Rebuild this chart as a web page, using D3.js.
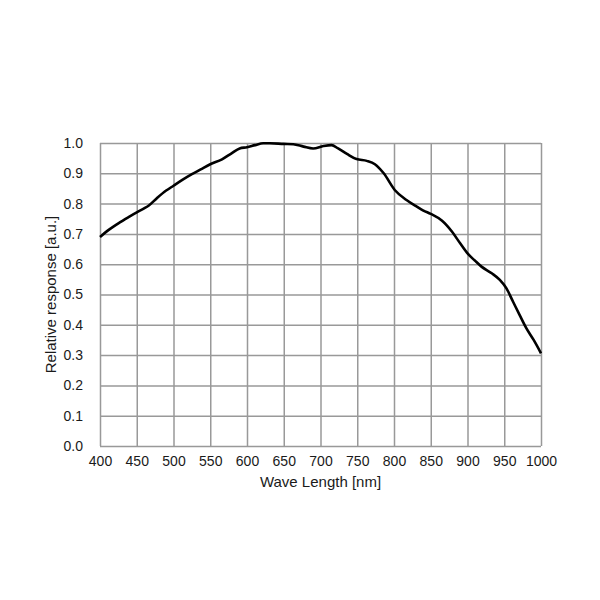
<!DOCTYPE html>
<html>
<head>
<meta charset="utf-8">
<script src="https://cdn.jsdelivr.net/npm/d3@7"></script>
<style>
  body { margin: 0; background: #fff; }
  svg text { font-family: "Liberation Sans", Arial, sans-serif; fill: #1a1a1a; }
</style>
</head>
<body>
<svg width="600" height="600"></svg>
<script>
// wavelength samples [nm]
var wavelengths = [400, 410, 425, 440, 450, 460, 466, 477, 490, 500, 512, 525, 537, 550,
    566, 579, 590, 600, 611, 622, 631, 650, 663, 677, 690, 704, 715, 724, 736, 749,
    763, 774, 786, 801, 817, 831, 840, 850, 865, 879, 890, 901, 910, 919, 933, 944,
    953, 962, 971, 980, 990, 1000];

// relative response [a.u.] at each wavelength
var response = [0.690, 0.710, 0.735, 0.757, 0.771, 0.784, 0.793, 0.817, 0.843, 0.859, 0.878, 0.897, 0.913, 0.930,
    0.946, 0.966, 0.982, 0.986, 0.993, 0.999, 0.999, 0.997, 0.996, 0.988, 0.982, 0.990, 0.993, 0.982, 0.964, 0.947,
    0.941, 0.930, 0.900, 0.845, 0.812, 0.790, 0.777, 0.766, 0.744, 0.707, 0.669, 0.633, 0.612, 0.592, 0.570, 0.548,
    0.520, 0.476, 0.432, 0.389, 0.350, 0.306];

// tick values for both axes
var xTicks = [400, 450, 500, 550, 600, 650, 700, 750, 800, 850, 900, 950, 1000];
var yTicks = [0.0, 0.1, 0.2, 0.3, 0.4, 0.5, 0.6, 0.7, 0.8, 0.9, 1.0];

var svg = d3.select('svg');
var padding = {t: 143, r: 59, b: 154, l: 100};
var chartWidth = +svg.attr('width') - padding.l - padding.r;
var chartHeight = +svg.attr('height') - padding.t - padding.b;

var chartG = svg.append('g')
    .attr('transform', 'translate(' + [padding.l, padding.t] + ')');

var x = d3.scaleLinear().domain([400, 1000]).range([0, chartWidth]);
var y = d3.scaleLinear().domain([0, 1]).range([chartHeight, 0]);

// grid + labels come from the axes
var xAxis = d3.axisBottom(x)
    .tickValues(xTicks)
    .tickSize(-chartHeight)
    .tickPadding(10)
    .tickFormat(d3.format('d'));
var yAxis = d3.axisLeft(y)
    .tickValues(yTicks)
    .tickSize(-chartWidth)
    .tickPadding(17)
    .tickFormat(d3.format('.1f'));

var gx = chartG.append('g')
    .attr('transform', 'translate(0,' + chartHeight + ')')
    .call(xAxis);
var gy = chartG.append('g').call(yAxis);

[gx, gy].forEach(function(g) {
    g.select('.domain').remove();
    g.selectAll('line').attr('stroke', '#999').attr('stroke-width', 1.5);
    g.selectAll('text').style('font-size', '14px').attr('fill', '#1a1a1a');
});

// response curve
var line = d3.line()
    .x(function(d, i) { return x(wavelengths[i]); })
    .y(function(d) { return y(d); })
    .curve(d3.curveMonotoneX);

chartG.append('path')
    .datum(response)
    .attr('fill', 'none')
    .attr('stroke', '#000')
    .attr('stroke-width', 2.6)
    .attr('stroke-linejoin', 'round')
    .attr('d', line);

// axis titles
svg.append('text')
    .attr('x', padding.l + chartWidth / 2)
    .attr('y', 487)
    .attr('text-anchor', 'middle')
    .style('font-size', '15px')
    .text('Wave Length [nm]');

svg.append('text')
    .attr('transform', 'translate(56,' + (padding.t + chartHeight / 2) + ') rotate(-90)')
    .attr('text-anchor', 'middle')
    .style('font-size', '15px')
    .text('Relative response [a.u.]');
</script>
</body>
</html>
